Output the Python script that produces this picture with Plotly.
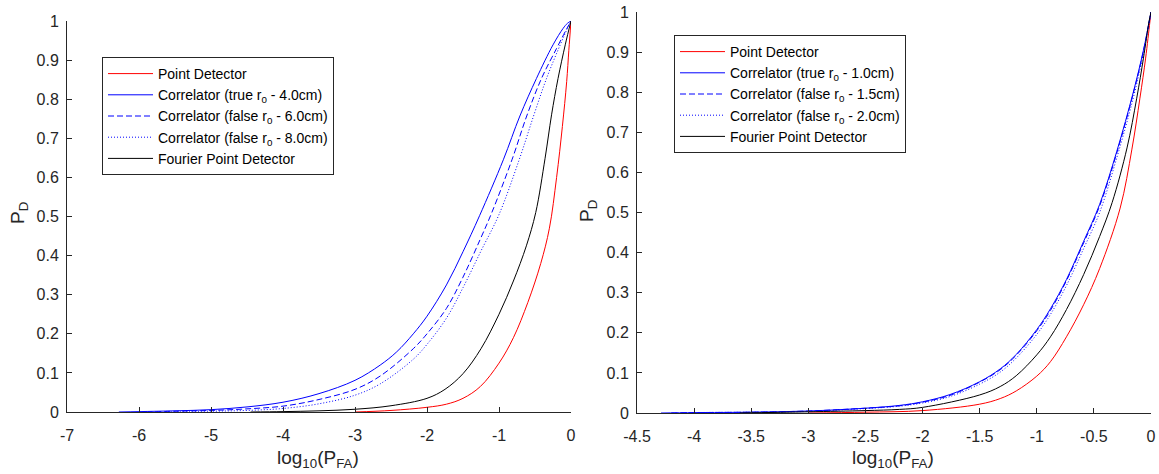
import plotly.graph_objects as go

# ---- Left panel: r0 = 4.0 cm ----
left_pd_x = [-3.0, -2.5, -2.0, -1.73, -1.5, -1.26, -1.0, -0.8, -0.6, -0.42, -0.3, -0.2, -0.12, -0.06, -0.03, 0.0]
left_pd_y = [0.0, 0.004, 0.012, 0.02, 0.035, 0.065, 0.125, 0.19, 0.28, 0.38, 0.47, 0.6, 0.73, 0.845, 0.925, 1.0]

left_true_x = [-6.28, -6.0, -5.5, -5.0, -4.5, -4.0, -3.5, -3.0, -2.65, -2.42, -2.19, -2.0, -1.73, -1.5, -1.27, -0.94, -0.71, -0.48, -0.25, -0.11, -0.05, 0.0]
left_true_y = [0.0, 0.001, 0.003, 0.006, 0.013, 0.025, 0.047, 0.081, 0.12, 0.154, 0.2, 0.245, 0.325, 0.41, 0.502, 0.645, 0.757, 0.853, 0.939, 0.981, 0.994, 1.0]

left_f6_x = [-5.9, -5.5, -5.0, -4.5, -4.0, -3.5, -3.0, -2.65, -2.19, -2.0, -1.73, -1.5, -1.26, -1.1, -0.82, -0.615, -0.41, -0.2, -0.06, 0.0]
left_f6_y = [0.0, 0.002, 0.004, 0.008, 0.015, 0.032, 0.058, 0.092, 0.162, 0.2, 0.265, 0.345, 0.442, 0.51, 0.645, 0.757, 0.853, 0.93, 0.98, 1.0]

left_f8_x = [-5.6, -5.0, -4.5, -4.0, -3.5, -3.0, -2.65, -2.19, -2.0, -1.73, -1.5, -1.25, -1.0, -0.72, -0.52, -0.34, -0.15, -0.04, 0.0]
left_f8_y = [0.0, 0.002, 0.004, 0.009, 0.021, 0.043, 0.072, 0.135, 0.173, 0.24, 0.318, 0.412, 0.505, 0.645, 0.757, 0.853, 0.939, 0.985, 1.0]

left_fpd_x = [-4.45, -4.0, -3.5, -3.0, -2.5, -2.0, -1.75, -1.5, -1.25, -1.0, -0.8, -0.62, -0.49, -0.36, -0.27, -0.18, -0.08, 0.0]
left_fpd_y = [0.0, 0.001, 0.003, 0.007, 0.016, 0.035, 0.058, 0.098, 0.162, 0.25, 0.335, 0.425, 0.51, 0.649, 0.76, 0.853, 0.939, 1.0]

# ---- Right panel: r0 = 1.0 cm ----
right_pd_x = [-3.0, -2.5, -2.0, -1.5, -1.32, -1.18, -1.0, -0.88, -0.74, -0.59, -0.45, -0.27, -0.167, -0.097, -0.047, -0.01, 0.0]
right_pd_y = [0.0, 0.002, 0.006, 0.022, 0.036, 0.055, 0.092, 0.128, 0.19, 0.27, 0.36, 0.511, 0.658, 0.785, 0.885, 0.975, 1.0]

right_true_x = [-4.29, -4.0, -3.5, -3.0, -2.5, -2.2, -2.0, -1.76, -1.5, -1.32, -1.18, -1.0, -0.88, -0.74, -0.59, -0.45, -0.30, -0.155, -0.066, 0.0]
right_true_y = [0.0, 0.001, 0.002, 0.005, 0.012, 0.019, 0.028, 0.046, 0.078, 0.11, 0.146, 0.208, 0.26, 0.333, 0.428, 0.52, 0.652, 0.80, 0.905, 1.0]

right_f15_x = [-4.2, -4.0, -3.5, -3.0, -2.5, -2.2, -2.0, -1.76, -1.5, -1.32, -1.18, -1.0, -0.88, -0.74, -0.59, -0.45, -0.30, -0.155, -0.066, 0.0]
right_f15_y = [0.0, 0.001, 0.002, 0.005, 0.012, 0.018, 0.027, 0.044, 0.077, 0.108, 0.144, 0.205, 0.256, 0.33, 0.424, 0.516, 0.648, 0.797, 0.903, 1.0]

right_f20_x = [-4.1, -4.0, -3.5, -3.0, -2.5, -2.2, -2.0, -1.76, -1.5, -1.32, -1.18, -1.0, -0.88, -0.74, -0.59, -0.45, -0.30, -0.155, -0.066, 0.0]
right_f20_y = [0.0, 0.001, 0.002, 0.004, 0.011, 0.017, 0.025, 0.041, 0.072, 0.102, 0.137, 0.196, 0.246, 0.318, 0.41, 0.5, 0.636, 0.786, 0.898, 1.0]

right_fpd_x = [-3.6, -3.0, -2.5, -2.2, -2.0, -1.5, -1.32, -1.18, -1.0, -0.88, -0.74, -0.59, -0.45, -0.34, -0.21, -0.125, -0.066, -0.018, 0.0]
right_fpd_y = [0.0, 0.003, 0.006, 0.009, 0.014, 0.045, 0.066, 0.093, 0.145, 0.19, 0.258, 0.345, 0.44, 0.525, 0.661, 0.785, 0.885, 0.975, 1.0]

left_names = ["Point Detector",
              "Correlator (true r<sub>0</sub> - 4.0cm)",
              "Correlator (false r<sub>0</sub> - 6.0cm)",
              "Correlator (false r<sub>0</sub> - 8.0cm)",
              "Fourier Point Detector"]
right_names = ["Point Detector",
               "Correlator (true r<sub>0</sub> - 1.0cm)",
               "Correlator (false r<sub>0</sub> - 1.5cm)",
               "Correlator (false r<sub>0</sub> - 2.0cm)",
               "Fourier Point Detector"]

left_xticks = [-7, -6, -5, -4, -3, -2, -1, 0]
left_xticktext = ["-7", "-6", "-5", "-4", "-3", "-2", "-1", "0"]
right_xticks = [-4.5, -4, -3.5, -3, -2.5, -2, -1.5, -1, -0.5, 0]
right_xticktext = ["-4.5", "-4", "-3.5", "-3", "-2.5", "-2", "-1.5", "-1", "-0.5", "0"]
yticks = [0, 0.1, 0.2, 0.3, 0.4, 0.5, 0.6, 0.7, 0.8, 0.9, 1]
yticktext = ["0", "0.1", "0.2", "0.3", "0.4", "0.5", "0.6", "0.7", "0.8", "0.9", "1"]

FONT = "Liberation Sans, Arial, Helvetica, sans-serif"
AX = "#262626"
W, H = 1159, 474

styles = [dict(color="#ff0000", dash="solid"),
          dict(color="#0000ff", dash="solid"),
          dict(color="#0000ff", dash="6px,3px"),
          dict(color="#0000ff", dash="1px,2px"),
          dict(color="#000000", dash="solid")]

fig = go.Figure()

left_series = [(left_pd_x, left_pd_y), (left_true_x, left_true_y), (left_f6_x, left_f6_y),
               (left_f8_x, left_f8_y), (left_fpd_x, left_fpd_y)]
right_series = [(right_pd_x, right_pd_y), (right_true_x, right_true_y), (right_f15_x, right_f15_y),
                (right_f20_x, right_f20_y), (right_fpd_x, right_fpd_y)]

for (xs, ys), name, st in zip(left_series, left_names, styles):
    fig.add_trace(go.Scatter(x=xs, y=ys, mode="lines", name=name,
                             line=dict(color=st["color"], dash=st["dash"], width=1,
                                       shape="spline", smoothing=1.0),
                             xaxis="x", yaxis="y", legend="legend"))

for (xs, ys), name, st in zip(right_series, right_names, styles):
    fig.add_trace(go.Scatter(x=xs, y=ys, mode="lines", name=name,
                             line=dict(color=st["color"], dash=st["dash"], width=1,
                                       shape="spline", smoothing=1.0),
                             xaxis="x2", yaxis="y2", legend="legend2"))


def px_x(p):
    return p / W


def px_y(p):
    return 1 - p / H


axis_common = dict(showgrid=False, zeroline=False, showline=True, linecolor=AX, linewidth=1,
                   ticks="inside", ticklen=5, tickcolor=AX, tickwidth=1, automargin=False,
                   tickfont=dict(family=FONT, size=16, color=AX), mirror=False)

fig.update_layout(
    width=W, height=H,
    margin=dict(l=0, r=0, t=0, b=0, pad=0),
    paper_bgcolor="white", plot_bgcolor="white",
    font=dict(family=FONT, color=AX),
    xaxis=dict(domain=[px_x(67), px_x(571)], range=[-7, 0], tickvals=left_xticks,
               ticktext=left_xticktext, anchor="y", ticklabelstandoff=9, **axis_common),
    yaxis=dict(domain=[px_y(412), px_y(21)], range=[0, 1], tickvals=yticks,
               ticktext=yticktext, anchor="x", ticklabelstandoff=4, **axis_common),
    xaxis2=dict(domain=[px_x(637), px_x(1151)], range=[-4.5, 0], tickvals=right_xticks,
                ticktext=right_xticktext, anchor="y2", ticklabelstandoff=9, **axis_common),
    yaxis2=dict(domain=[px_y(413), px_y(12)], range=[0, 1], tickvals=yticks,
                ticktext=yticktext, anchor="x2", ticklabelstandoff=4, **axis_common),
    legend=dict(x=px_x(102), y=px_y(57), xanchor="left", yanchor="top",
                bgcolor="white", bordercolor=AX, borderwidth=1,
                font=dict(family=FONT, size=14, color="#000000"), itemwidth=45),
    legend2=dict(x=px_x(674), y=px_y(35), xanchor="left", yanchor="top",
                 bgcolor="white", bordercolor=AX, borderwidth=1,
                 font=dict(family=FONT, size=14, color="#000000"), itemwidth=45),
    showlegend=True,
)

label_font = dict(family=FONT, size=19, color=AX)
annotations = [
    dict(text="P<sub>D</sub>", x=px_x(19), y=px_y(213), textangle=-90),
    dict(text="P<sub>D</sub>", x=px_x(588), y=px_y(211), textangle=-90),
    dict(text="log<sub>10</sub>(P<sub>FA</sub>)", x=px_x(318), y=px_y(459)),
    dict(text="log<sub>10</sub>(P<sub>FA</sub>)", x=px_x(893), y=px_y(459)),
]
for a in annotations:
    fig.add_annotation(xref="paper", yref="paper", showarrow=False,
                       xanchor="center", yanchor="middle", font=label_font, **a)

fig.write_html("out.html")
